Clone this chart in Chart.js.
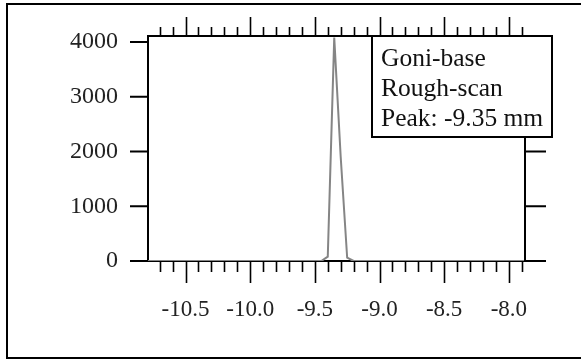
<!DOCTYPE html>
<html>
<head>
<meta charset="utf-8">
<title>Goni-base rough scan</title>
<script src="https://cdn.jsdelivr.net/npm/chart.js@4.4.1/dist/chart.umd.min.js"></script>
<style>
  html, body { margin: 0; padding: 0; background: #fff; }
  #wrap { width: 581px; height: 364px; }
</style>
</head>
<body>
<div id="wrap"><canvas id="scanChart" width="581" height="364"></canvas></div>
<script>
// scan position (mm) and detector counts
const scanPos = [-10.80, -10.50, -10.00, -9.50, -9.45, -9.40, -9.35, -9.30, -9.25, -9.20, -9.00, -8.50, -8.00, -7.85];
const counts  = [0, 0, 0, 0, 0, 80, 4080, 1900, 60, 0, 0, 0, 0, 0];

const xTicks = [-10.5, -10.0, -9.5, -9.0, -8.5, -8.0];
const yTicks = [0, 1000, 2000, 3000, 4000];
const rightTicks = [0, 1000, 2000];
const noteLines = ['Goni-base', 'Rough-scan', 'Peak: -9.35 mm'];

const serif = "'Liberation Serif', 'DejaVu Serif', serif";

// draws frame, top/right axes, all tick marks and the note box
const framePlugin = {
    id: 'framePlugin',
    afterDraw(chart) {
        const ctx = chart.ctx;
        const area = chart.chartArea;
        const xs = chart.scales.x;
        const ys = chart.scales.y;

        ctx.save();
        ctx.strokeStyle = '#000';
        ctx.lineWidth = 2;

        // outer frame
        ctx.strokeRect(7, 4, 600, 354);

        // top and right axis lines
        ctx.beginPath();
        ctx.moveTo(area.left, area.top);
        ctx.lineTo(area.right, area.top);
        ctx.moveTo(area.right, area.top);
        ctx.lineTo(area.right, area.bottom);
        ctx.stroke();

        // x tick marks, every 0.1 mm
        ctx.lineWidth = 1.6;
        ctx.beginPath();
        for (let i = -108; i <= -78; i++) {
            const v = i / 10;
            if (v < xs.min || v > xs.max) continue;
            const px = Math.round(xs.getPixelForValue(v)) + 0.5;
            const major = i % 5 === 0;
            ctx.moveTo(px, area.bottom);
            ctx.lineTo(px, area.bottom + (major ? 22 : 11));
            ctx.moveTo(px, area.top);
            ctx.lineTo(px, area.top - (major ? 19 : 9));
        }
        ctx.stroke();

        // y tick marks
        ctx.lineWidth = 2;
        ctx.beginPath();
        yTicks.forEach(v => {
            const py = ys.getPixelForValue(v);
            ctx.moveTo(area.left - 18, py);
            ctx.lineTo(area.left, py);
        });
        rightTicks.forEach(v => {
            const py = ys.getPixelForValue(v);
            ctx.moveTo(area.right, py);
            ctx.lineTo(area.right + 21, py);
        });
        ctx.stroke();

        // note box
        const bx = 372, by = 36, bw = 180, bh = 101;
        ctx.fillStyle = '#fff';
        ctx.fillRect(bx, by, bw, bh);
        ctx.lineWidth = 2;
        ctx.strokeRect(bx, by, bw, bh);
        ctx.fillStyle = '#111';
        ctx.font = '25.5px ' + serif;
        ctx.textBaseline = 'alphabetic';
        ctx.textAlign = 'left';
        noteLines.forEach((t, i) => ctx.fillText(t, bx + 9, by + 30 + i * 30));

        ctx.restore();
    }
};

const ctx = document.getElementById('scanChart').getContext('2d');

const scanChart = new Chart(ctx, {
    type: 'line',
    data: {
        datasets: [{
            label: 'Counts',
            data: scanPos.map((x, i) => ({ x: x, y: counts[i] })),
            borderColor: '#858585',
            borderWidth: 2,
            pointRadius: 0,
            tension: 0,
            fill: false
        }]
    },
    options: {
        responsive: false,
        devicePixelRatio: 1,
        animation: false,
        layout: {
            padding: { left: 0, top: 36, right: 56, bottom: 0 }
        },
        plugins: {
            legend: { display: false },
            tooltip: { enabled: false }
        },
        scales: {
            x: {
                type: 'linear',
                min: -10.79,
                max: -7.875,
                afterBuildTicks: s => { s.ticks = xTicks.map(v => ({ value: v })); },
                afterFit: s => {
                    s.height = 103;
                    s.paddingLeft = 0;
                    s.paddingRight = 0;
                },
                grid: { display: false, drawTicks: false },
                border: { display: true, color: '#000', width: 2 },
                ticks: {
                    padding: 35,
                    color: '#222',
                    font: { family: serif, size: 23 },
                    maxRotation: 0,
                    autoSkip: false,
                    callback: v => v.toFixed(1)
                }
            },
            y: {
                min: 0,
                max: 4110,
                afterBuildTicks: s => { s.ticks = yTicks.map(v => ({ value: v })); },
                afterFit: s => {
                    s.width = 148;
                    s.paddingTop = 0;
                    s.paddingBottom = 0;
                },
                grid: { display: false, drawTicks: false },
                border: { display: true, color: '#000', width: 2 },
                ticks: {
                    padding: 30,
                    color: '#222',
                    font: { family: serif, size: 24 },
                    callback: v => String(v)
                }
            }
        }
    },
    plugins: [framePlugin]
});
</script>
</body>
</html>
